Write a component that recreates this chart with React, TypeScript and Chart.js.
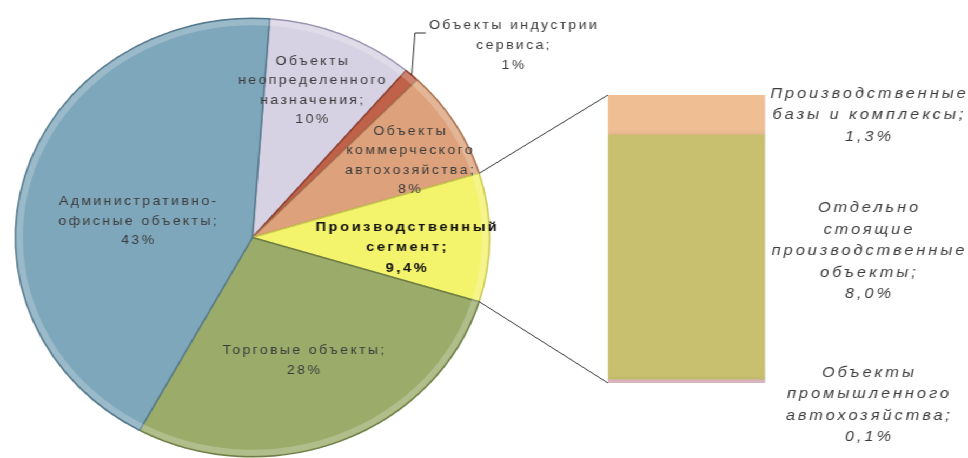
import React, { useEffect, useRef } from "react";
import { Chart, registerables } from "chart.js";

Chart.register(...registerables);

// ---------- data ----------
const pieCategories: string[][] = [
  ["Объекты", "неопределенного", "назначения"],
  ["Объекты индустрии", "сервиса"],
  ["Объекты", "коммерческого", "автохозяйства"],
  ["Производственный", "сегмент"],
  ["Торговые объекты"],
  ["Административно-", "офисные объекты"],
];
const pieValues: number[] = [10, 1, 8, 9.4, 28, 43];
const pieColors: string[] = ["#D6D1E3", "#C0614A", "#DDA27C", "#F4F36C", "#9BAB6A", "#7EA7BB"];
const pieBorders: string[] = ["#9A94AE", "#8E3F2E", "#A8704E", "#C9C850", "#6E7E45", "#55798C"];
const splitIndex = 3; // slice broken out into the bar

const barCategories: string[][] = [
  ["Объекты", "промышленного", "автохозяйства"],
  ["Отдельно", "стоящие", "производственные", "объекты"],
  ["Производственные", "базы и комплексы"],
];
const barValues: number[] = [0.1, 8.0, 1.3];
const barColors: string[] = ["#D9B3BD", "#C8C06E", "#EFBE92"];

// ---------- layout ----------
const STRETCH = 1.0816;
const W = 895;
const H = 458;
const PIE_CX = 233.4;
const PIE_CY = 237.5;
const PIE_R = 220;
const BAR_LEFT = 562.1;
const BAR_RIGHT = 707.3;
const BAR_TOP = 95;
const BAR_BOTTOM = 383;

// label placement per pie slice: fraction of radius, angle tweak (deg)
const pieLabelPlace = [
  { frac: 0.715, dA: -1.8 },
  { outside: true },
  { frac: 0.75, dA: 3.5 },
  { frac: 0.65, dA: 4 },
  { frac: 0.6, dA: 1.3 },
  { frac: 0.49, dA: -7.5 },
];
const barLabelDx = 95.2;
const barLabelDy = [23.5, -6.5, 0];

const fmtPie = (v: number) => (v % 1 ? v.toFixed(1) : v.toFixed(0)).replace(".", ",") + "%";
const fmtBar = (v: number) => v.toFixed(1).replace(".", ",") + "%";

const total = pieValues.reduce((a, b) => a + b, 0);
const before = pieValues.slice(0, splitIndex).reduce((a, b) => a + b, 0);
const rotation = 90 - ((before + pieValues[splitIndex] / 2) / total) * 360;

function drawLines(ctx: CanvasRenderingContext2D, lines: string[], x: number, yCenter: number, lh: number, spacing: number) {
  const top = yCenter - ((lines.length - 1) * lh) / 2;
  lines.forEach((t, k) => ctx.fillText(t, x + spacing / 2, top + k * lh));
}

export default function App() {
  const pieRef = useRef<HTMLCanvasElement>(null);
  const barRef = useRef<HTMLCanvasElement>(null);

  useEffect(() => {
    const pieLabelPlugin = {
      id: "pieLabels",
      afterDatasetsDraw(chart: any) {
        const ctx: CanvasRenderingContext2D = chart.ctx;
        const arcs = chart.getDatasetMeta(0).data;
        // soft bevel rim
        const a0: any = arcs[0];
        ctx.save();
        ctx.strokeStyle = "rgba(255,255,255,0.22)";
        ctx.lineWidth = 6;
        ctx.beginPath();
        ctx.arc(a0.x, a0.y, a0.outerRadius - 4, 0, Math.PI * 2);
        ctx.stroke();
        ctx.restore();

        arcs.forEach((arc: any, i: number) => {
          const p = arc.getProps(["x", "y", "startAngle", "endAngle", "outerRadius"], true);
          const mid = (p.startAngle + p.endAngle) / 2;
          const pl: any = pieLabelPlace[i];
          const lines = [...pieCategories[i]];
          lines[lines.length - 1] += ";";
          lines.push(fmtPie(pieValues[i]));
          ctx.save();
          ctx.textAlign = "center";
          ctx.textBaseline = "middle";
          const bold = i === splitIndex;
          const sp = bold ? 2.4 : 2.2;
          (ctx as any).letterSpacing = sp + "px";
          ctx.font = bold ? "bold 13.5px 'Liberation Sans', Arial, sans-serif" : "13px 'Liberation Sans', Arial, sans-serif";
          ctx.fillStyle = bold ? "#111111" : "#3C3C3C";
          if (pl.outside) {
            const ax = p.x + Math.cos(mid) * p.outerRadius;
            const ay = p.y + Math.sin(mid) * p.outerRadius;
            const by = 33;
            const bx = ax + 3;
            const cx = bx + 10;
            ctx.strokeStyle = "#333333";
            ctx.lineWidth = 1;
            ctx.beginPath();
            ctx.moveTo(ax, ay);
            ctx.lineTo(bx, by);
            ctx.lineTo(cx, by);
            ctx.stroke();
            const wMax = Math.max(...lines.map((t) => ctx.measureText(t).width));
            drawLines(ctx, lines, cx + 2 + wMax / 2, 45, 20, sp);
          } else {
            const a = mid + (pl.dA * Math.PI) / 180;
            const r = p.outerRadius * pl.frac;
            drawLines(ctx, lines, p.x + Math.cos(a) * r, p.y + Math.sin(a) * r, bold ? 20.5 : 19.5, sp);
          }
          ctx.restore();
        });
      },
    };

    const pie = new Chart(pieRef.current!, {
      type: "pie",
      data: {
        labels: pieCategories.map((c) => c.join(" ")),
        datasets: [
          {
            data: pieValues,
            backgroundColor: pieColors,
            borderColor: pieBorders,
            borderWidth: 1.5,
          },
        ],
      },
      options: {
        responsive: false,
        animation: false,
        rotation,
        layout: {
          padding: {
            left: PIE_CX - PIE_R,
            right: W - (PIE_CX + PIE_R),
            top: PIE_CY - PIE_R,
            bottom: H - (PIE_CY + PIE_R),
          },
        },
        plugins: { legend: { display: false }, tooltip: { enabled: false } },
      },
      plugins: [pieLabelPlugin],
    });

    const barPlugin = {
      id: "barExtras",
      beforeDatasetsDraw(chart: any) {
        const ctx: CanvasRenderingContext2D = chart.ctx;
        ctx.save();
        ctx.shadowColor = "rgba(90,90,130,0.45)";
        ctx.shadowBlur = 6;
        ctx.shadowOffsetX = 2;
        ctx.shadowOffsetY = 3;
      },
      afterDatasetsDraw(chart: any) {
        const ctx: CanvasRenderingContext2D = chart.ctx;
        ctx.restore();
        // connector lines from broken-out pie slice to bar
        const arc: any = pie.getDatasetMeta(0).data[splitIndex];
        const a = arc.getProps(["x", "y", "startAngle", "endAngle", "outerRadius"], true);
        const topEl: any = chart.getDatasetMeta(barValues.length - 1).data[0];
        const botEl: any = chart.getDatasetMeta(0).data[0];
        const t = topEl.getProps(["x", "y", "base", "width"], true);
        const b = botEl.getProps(["x", "y", "base", "width"], true);
        ctx.save();
        ctx.strokeStyle = "#3A3A3A";
        ctx.lineWidth = 1;
        ctx.beginPath();
        ctx.moveTo(a.x + Math.cos(a.startAngle) * a.outerRadius, a.y + Math.sin(a.startAngle) * a.outerRadius);
        ctx.lineTo(t.x - t.width / 2, t.y);
        ctx.moveTo(a.x + Math.cos(a.endAngle) * a.outerRadius, a.y + Math.sin(a.endAngle) * a.outerRadius);
        ctx.lineTo(b.x - b.width / 2, b.base);
        ctx.stroke();

        // bar labels
        ctx.textAlign = "center";
        ctx.textBaseline = "middle";
        const sp = 2.8;
        (ctx as any).letterSpacing = sp + "px";
        ctx.font = "italic 15px 'Liberation Sans', Arial, sans-serif";
        ctx.fillStyle = "#3C3C3C";
        barValues.forEach((v, i) => {
          const el: any = chart.getDatasetMeta(i).data[0];
          const e = el.getProps(["x", "y", "base", "width"], true);
          const lines = [...barCategories[i]];
          lines[lines.length - 1] += ";";
          lines.push(fmtBar(v));
          drawLines(ctx, lines, e.x + e.width / 2 + barLabelDx, (e.y + e.base) / 2 + barLabelDy[i], 21.5, sp);
        });
        ctx.restore();
      },
    };

    const bar = new Chart(barRef.current!, {
      type: "bar",
      data: {
        labels: [""],
        datasets: barValues.map((v, i) => ({
          label: barCategories[i].join(" "),
          data: [v],
          backgroundColor: barColors[i],
          borderWidth: 0,
          barPercentage: 1,
          categoryPercentage: 1,
          stack: "s",
        })),
      },
      options: {
        responsive: false,
        animation: false,
        layout: {
          padding: { left: BAR_LEFT, right: W - BAR_RIGHT, top: BAR_TOP, bottom: H - BAR_BOTTOM },
        },
        scales: {
          x: { display: false, stacked: true },
          y: { display: false, stacked: true, min: 0, max: barValues.reduce((a, b) => a + b, 0) },
        },
        plugins: { legend: { display: false }, tooltip: { enabled: false } },
      },
      plugins: [barPlugin],
    });

    return () => {
      bar.destroy();
      pie.destroy();
    };
  }, []);

  return (
    <div
      style={{
        position: "fixed",
        left: 0,
        top: 0,
        width: W,
        height: H,
        transform: `scaleX(${STRETCH})`,
        transformOrigin: "0 0",
        background: "#ffffff",
      }}
    >
      <canvas ref={pieRef} width={W} height={H} style={{ position: "absolute", left: 0, top: 0 }} />
      <canvas ref={barRef} width={W} height={H} style={{ position: "absolute", left: 0, top: 0 }} />
    </div>
  );
}
